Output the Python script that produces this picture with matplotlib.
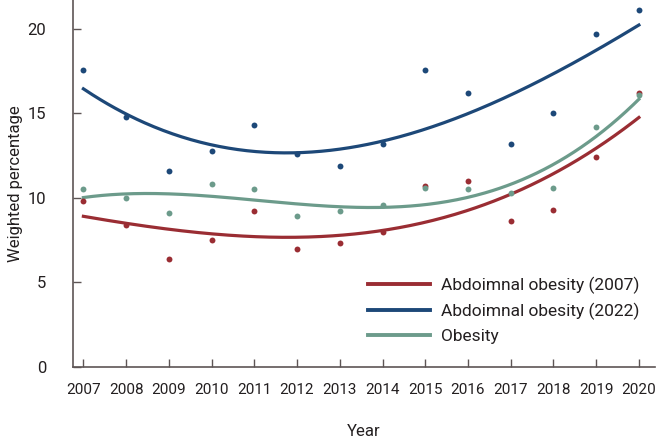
import numpy as np
import matplotlib
matplotlib.use("Agg")
import matplotlib.pyplot as plt
from matplotlib.lines import Line2D

plt.rcParams['font.family'] = ['Roboto', 'DejaVu Sans']

years = [2007, 2008, 2009, 2010, 2011, 2012, 2013, 2014, 2015, 2016, 2017, 2018, 2019, 2020]
abd_2007 = [9.8, 8.4, 6.4, 7.5, 9.2, 7.0, 7.3, 8.0, 10.7, 11.0, 8.6, 9.3, 12.4, 16.2]
abd_2022 = [17.6, 14.8, 11.6, 12.8, 14.3, 12.6, 11.9, 13.2, 17.6, 16.2, 13.2, 15.0, 19.7, 21.1]
obesity = [10.5, 10.0, 9.1, 10.8, 10.5, 8.9, 9.2, 9.6, 10.6, 10.5, 10.3, 10.6, 14.2, 16.1]

labels = ["Abdoimnal obesity (2007)", "Abdoimnal obesity (2022)", "Obesity"]
colors = ["#9a2d33", "#1d4878", "#6c9b8b"]
degrees = [3, 3, 3]
series = [abd_2007, abd_2022, obesity]

fig = plt.figure(figsize=(6.58, 4.42), dpi=100)
ax = fig.add_axes([0.1105, 0.1704, 0.8845, 0.8296])

x = np.array(years, dtype=float)
xs = np.linspace(x[0], x[-1], 300)
for vals, c, d in zip(series, colors, degrees):
    ax.scatter(x, vals, s=18, color=c, zorder=3, linewidths=0)
    coef = np.polyfit(x - 2013.5, vals, d)
    ax.plot(xs, np.polyval(coef, xs - 2013.5), color=c, lw=2.3, zorder=2)

ax.set_xlim(2006.75, 2020.37)
ax.set_ylim(0, 21.72)
ax.set_xticks(years)
ax.set_xticklabels([str(y) for y in years])
ax.set_yticks([0, 5, 10, 15, 20])
for s in ['top', 'right']:
    ax.spines[s].set_visible(False)
for s in ['left', 'bottom']:
    ax.spines[s].set_color('#5d5555')
    ax.spines[s].set_linewidth(1.2)
ax.tick_params(axis='y', direction='in', length=6, width=1, color='#5d5555', pad=19,
               labelsize=12, labelcolor='#231f20')
ax.tick_params(axis='x', direction='in', length=5.5, width=1, color='#5d5555', pad=12,
               labelsize=11, labelcolor='#231f20')
ax.set_xlabel("Year", fontsize=12, color='#231f20', labelpad=19)
ax.set_ylabel("Weighted percentage", fontsize=12, color='#231f20', labelpad=3)

handles = [Line2D([0], [0], color=c, lw=2.8) for c in colors]
leg = ax.legend(handles, labels, loc='lower right', bbox_to_anchor=(1.0, 0.02),
                frameon=False, fontsize=12.5, handlelength=3.6, handletextpad=0.6,
                labelspacing=0.5, labelcolor='#231f20')

fig.savefig("out.png", dpi=100)
